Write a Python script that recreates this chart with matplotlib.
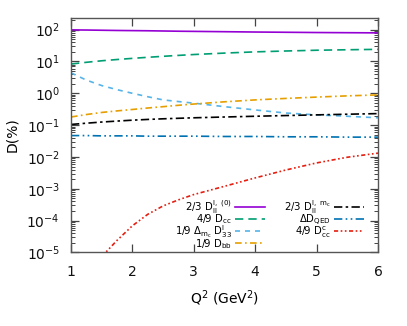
import matplotlib
matplotlib.use("Agg")
import matplotlib.pyplot as plt
import numpy as np

# Q^2 grid (GeV^2) and the contributions D (%)
q2 = [1, 1.25, 1.5, 1.75, 2, 2.25, 2.5, 2.75, 3, 3.5, 4, 4.5, 5, 5.5, 6]
d_ll0 = [98, 97, 95.5, 94, 93, 92, 90.5, 89, 88, 86, 84, 82.5, 81, 80, 79]
d_cc = [8.3, 9.4, 10.5, 11.5, 12.5, 13.5, 14.5, 15.5, 16.5, 18.3, 20, 21.3, 22.5, 23.3, 24]
d_33 = [4.4, 2.6, 1.75, 1.3, 1.0, 0.78, 0.62, 0.55, 0.49, 0.38, 0.30, 0.24, 0.21, 0.19, 0.17]
d_bb = [0.18, 0.215, 0.25, 0.28, 0.31, 0.345, 0.38, 0.42, 0.46, 0.54, 0.62, 0.69, 0.76, 0.83, 0.89]
d_llmc = [0.105, 0.115, 0.125, 0.134, 0.143, 0.151, 0.158, 0.164, 0.17, 0.18, 0.19, 0.20, 0.21, 0.22, 0.23]
d_qed = [0.047, 0.047, 0.046, 0.046, 0.046, 0.045, 0.045, 0.045, 0.045, 0.044, 0.044, 0.043, 0.043, 0.042, 0.042]
d_ccc = [np.nan, np.nan, 7.4e-6, 2.4e-5, 6.9e-5, 1.58e-4, 2.9e-4, 4.5e-4, 6.6e-4,
         1.2e-3, 2.2e-3, 3.9e-3, 6.5e-3, 9.8e-3, 1.32e-2]

labels = [
    r"2/3 D$_{\rm ll}^{\rm l,\ (0)}$",
    r"4/9 D$_{\rm cc}$",
    r"1/9 $\Delta_{\rm m_c}$ D$_{33}^{\rm l}$",
    r"1/9 D$_{\rm bb}$",
    r"2/3 D$_{\rm ll}^{\rm l,\ m_c}$",
    r"$\Delta$D$_{\rm QED}$",
    r"4/9 D$_{\rm cc}^{\rm c}$",
]

plt.rcParams["mathtext.fontset"] = "dejavusans"
plt.rcParams["font.family"] = "DejaVu Sans"

fig = plt.figure(figsize=(4.07, 3.26), dpi=100)
ax = fig.add_axes([0.1744, 0.2255, 0.7543, 0.7208])

lw = 1.2
ax.plot(q2, d_ll0, color="#9400D3", lw=lw, ls="-", label=labels[0])
ax.plot(q2, d_cc, color="#009E73", lw=lw, ls=(0, (5, 3)), label=labels[1])
ax.plot(q2, d_33, color="#56B4E9", lw=lw, ls=(0, (3, 3)), label=labels[2])
ax.plot(q2, d_bb, color="#E69F00", lw=lw, ls=(0, (4, 2, 1, 2)), label=labels[3])
ax.plot(q2, d_llmc, color="black", lw=lw, ls=(0, (5, 2, 1.5, 2)), label=labels[4])
ax.plot(q2, d_qed, color="#0072B2", lw=lw, ls=(0, (5, 2, 1, 2, 1, 2)), label=labels[5])
ax.plot(q2, d_ccc, color="#E51E10", lw=lw, ls=(0, (2.5, 1.5, 1, 1.5, 1, 1.5)), label=labels[6])

ax.set_yscale("log")
ax.set_xlim(1, 6)
ax.set_ylim(1e-5, 240)
ax.set_yticks([1e-5, 1e-4, 1e-3, 1e-2, 1e-1, 1, 10, 100])
ax.set_xticks([1, 2, 3, 4, 5, 6])

for s in ax.spines.values():
    s.set_color("#555555")
    s.set_linewidth(1.0)
ax.tick_params(which="both", direction="in", top=True, right=True,
               color="#444444", labelsize=10, labelcolor="#111111")
ax.tick_params(which="major", length=6, width=0.9)
ax.tick_params(which="minor", length=3, width=0.7)
ax.tick_params(axis="y", pad=8)
ax.tick_params(axis="x", pad=9)
ax.xaxis.set_minor_locator(matplotlib.ticker.NullLocator())

ax.set_xlabel(r"Q$^2$ (GeV$^2$)", fontsize=10, labelpad=7)
ax.set_ylabel("D(%)", fontsize=10, labelpad=5)

leg = ax.legend(ncol=2, loc="upper right", bbox_to_anchor=(0.97, 0.255),
                frameon=False, markerfirst=False, fontsize=7.3,
                handlelength=2.9, handletextpad=0.35, labelspacing=-0.3,
                columnspacing=1.9, borderpad=0.0)

fig.savefig("out.png", dpi=100)
